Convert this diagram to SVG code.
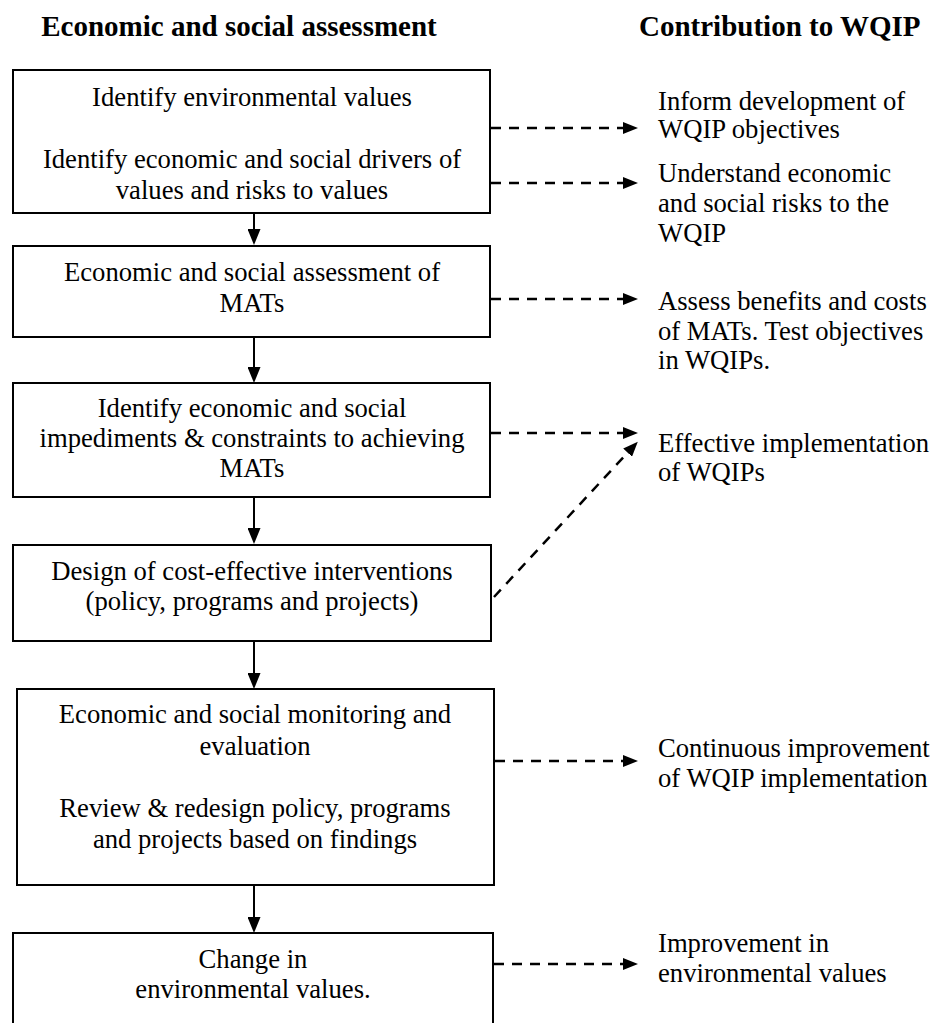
<svg xmlns="http://www.w3.org/2000/svg" width="936" height="1023" viewBox="0 0 936 1023">
<style>
text{font-family:"Liberation Serif","Times New Roman",serif;font-size:26.67px;fill:#000}
.t{font-weight:bold;font-size:29px}
.c{text-anchor:middle}
.box{fill:#fff;stroke:#000;stroke-width:2}
.solid{stroke:#000;stroke-width:2;fill:none}
.dash{stroke:#000;stroke-width:2.5;fill:none;stroke-dasharray:10 8}
</style>
<defs>
<marker id="ah" markerUnits="userSpaceOnUse" markerWidth="16" markerHeight="13" viewBox="0 0 16 13" refX="6" refY="6.5" orient="auto">
<path d="M0,0 L16,6.5 L0,13 z" fill="#000"/>
</marker>
<marker id="dh" markerUnits="userSpaceOnUse" markerWidth="15" markerHeight="12" viewBox="0 0 15 12" refX="5" refY="6" orient="auto">
<path d="M0,0 L15,6 L0,12 z" fill="#000"/>
</marker>
</defs>
<rect width="936" height="1023" fill="#fff"/>
<g id="headers">
<text class="t c" x="239" y="36">Economic and social assessment</text>
<text class="t" x="639" y="36">Contribution to WQIP</text>
</g>
<g id="connectors">
<line class="solid" x1="254" y1="213" x2="254" y2="235" marker-end="url(#ah)"/>
<line class="solid" x1="254" y1="337" x2="254" y2="373" marker-end="url(#ah)"/>
<line class="solid" x1="254" y1="497" x2="254" y2="534" marker-end="url(#ah)"/>
<line class="solid" x1="254" y1="641" x2="254" y2="679" marker-end="url(#ah)"/>
<line class="solid" x1="254" y1="885" x2="254" y2="923" marker-end="url(#ah)"/>
<line class="dash" x1="491" y1="128" x2="628" y2="128" marker-end="url(#dh)"/>
<line class="dash" x1="491" y1="183" x2="628" y2="183" marker-end="url(#dh)"/>
<line class="dash" x1="491" y1="299" x2="628" y2="299" marker-end="url(#dh)"/>
<line class="dash" x1="491" y1="433" x2="628" y2="433" marker-end="url(#dh)"/>
<line class="dash" x1="494" y1="597" x2="631" y2="449" marker-end="url(#dh)"/>
<line class="dash" x1="495" y1="761" x2="628" y2="761" marker-end="url(#dh)"/>
<line class="dash" x1="494" y1="964" x2="628" y2="964" marker-end="url(#dh)"/>
</g>
<g id="box1">
<rect class="box" x="13" y="70" width="477" height="143"/>
<text class="c" x="252" y="106">Identify environmental values</text>
<text class="c" x="252" y="168">Identify economic and social drivers of</text>
<text class="c" x="252" y="199">values and risks to values</text>
</g>
<g id="box2">
<rect class="box" x="13" y="246" width="477" height="91"/>
<text class="c" x="252" y="281">Economic and social assessment of</text>
<text class="c" x="252" y="312">MATs</text>
</g>
<g id="box3">
<rect class="box" x="13" y="383" width="477" height="114"/>
<text class="c" x="252" y="417">Identify economic and social</text>
<text class="c" x="252" y="447">impediments &amp; constraints to achieving</text>
<text class="c" x="252" y="477">MATs</text>
</g>
<g id="box4">
<rect class="box" x="13" y="545" width="478" height="96"/>
<text class="c" x="252" y="580">Design of cost-effective interventions</text>
<text class="c" x="252" y="610">(policy, programs and projects)</text>
</g>
<g id="box5">
<rect class="box" x="17" y="689" width="477" height="196"/>
<text class="c" x="255" y="723">Economic and social monitoring and</text>
<text class="c" x="255" y="755">evaluation</text>
<text class="c" x="255" y="817">Review &amp; redesign policy, programs</text>
<text class="c" x="255" y="848">and projects based on findings</text>
</g>
<g id="box6">
<rect class="box" x="13" y="933" width="480" height="96"/>
<text class="c" x="253" y="968">Change in</text>
<text class="c" x="253" y="998">environmental values.</text>
</g>
<g id="out1">
<text x="658" y="110">Inform development of</text>
<text x="658" y="138">WQIP objectives</text>
</g>
<g id="out2">
<text x="658" y="182">Understand economic</text>
<text x="658" y="212">and social risks to the</text>
<text x="658" y="242">WQIP</text>
</g>
<g id="out3">
<text x="658" y="310">Assess benefits and costs</text>
<text x="658" y="340">of MATs. Test objectives</text>
<text x="658" y="369">in WQIPs.</text>
</g>
<g id="out4">
<text x="658" y="452">Effective implementation</text>
<text x="658" y="481">of WQIPs</text>
</g>
<g id="out5">
<text x="658" y="757">Continuous improvement</text>
<text x="658" y="787">of WQIP implementation</text>
</g>
<g id="out6">
<text x="658" y="952">Improvement in</text>
<text x="658" y="982">environmental values</text>
</g>
</svg>
